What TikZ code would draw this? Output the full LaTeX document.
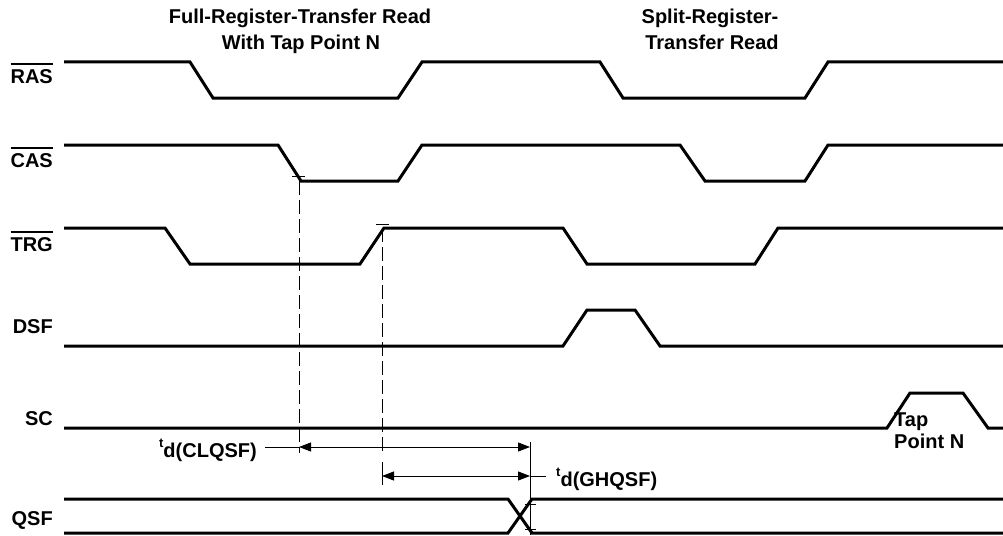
\documentclass[tikz,border=0pt]{standalone}
\usepackage{fontspec}
\setmainfont{Liberation Sans}
\usetikzlibrary{arrows.meta}
\newcommand\barlbl[1]{\vbox{\hrule height 2.6pt\kern 3.6pt\hbox{#1}}}
\newcommand\tdlbl[1]{{\fontsize{13}{13}\selectfont\raisebox{10pt}{t}}#1}
\begin{document}
\begin{tikzpicture}[x=1pt,y=-1pt,
  sig/.style={line width=3pt, line join=miter},
  dim/.style={line width=0.9pt},
  dsh/.style={line width=0.9pt, dash pattern=on 14pt off 5pt},
  tick/.style={line width=0.8pt},
  lbl/.style={font=\fontsize{20}{24}\selectfont\bfseries, inner sep=0pt},
  ttl/.style={font=\fontsize{20}{24}\selectfont\bfseries, inner sep=0pt},
  dimarr/.style={dim, {Triangle[length=12pt,width=9pt]}-{Triangle[length=12pt,width=9pt]}},
]
\useasboundingbox (0,0) rectangle (1003,535);

% titles
\node[ttl, anchor=base] (t1a) at (300,24) {Full-Register-Transfer Read};
\node[ttl, anchor=base] (t1b) at (301,50) {With Tap Point N};
\node[ttl, anchor=base] (t2a) at (710,24) {Split-Register-};
\node[ttl, anchor=base] (t2b) at (712,50) {Transfer Read};

% signal labels
\node[lbl, anchor=base east] (lras) at (53,83) {\barlbl{RAS}};
\node[lbl, anchor=base east] (lcas) at (53,167) {\barlbl{CAS}};
\node[lbl, anchor=base east] (ltrg) at (53,251) {\barlbl{TRG}};
\node[lbl, anchor=base east] (ldsf) at (53,333) {DSF};
\node[lbl, anchor=base east] (lsc) at (53,425) {SC};
\node[lbl, anchor=base east] (lqsf) at (53,525) {QSF};

% waveforms
\draw[sig] (64,62) -- (190,62) -- (213,98) -- (398,98) -- (422,62) -- (600,62) -- (623,98) -- (805,98) -- (828,62) -- (1004,62);
\draw[sig] (64,145) -- (278,145) -- (301,181) -- (398,181) -- (422,145) -- (680,145) -- (705,181) -- (805,181) -- (828,145) -- (1004,145);
\draw[sig] (64,228) -- (165,228) -- (190,264) -- (360,264) -- (384,228) -- (563,228) -- (587,264) -- (755,264) -- (778,228) -- (1004,228);
\draw[sig] (64,346) -- (563,346) -- (587,310) -- (635,310) -- (660,346) -- (1004,346);
\draw[sig] (64,428) -- (887,428) -- (910,393) -- (963,393) -- (988,428) -- (1004,428);
\draw[sig] (64,499) -- (508,499) -- (532,533) -- (1004,533);
\draw[sig] (64,533) -- (508,533) -- (532,499) -- (1004,499);

% reference coordinates
\coordinate (casL) at (299,181);
\coordinate (trgH) at (382,228);
\coordinate (a1s) at (265,447);
\coordinate (a1l) at (299,447);
\coordinate (a1r) at (530,447);
\coordinate (a2l) at (382,476);
\coordinate (a2r) at (530,476);
\coordinate (a2e) at (546,476);
\coordinate (qx) at (530,442);
\coordinate (qy) at (530,535);

% dashed extension lines
\draw[dsh] (casL) -- (299,453);
\draw[dsh] (trgH) -- (382,453);
\draw[tick] (382,462) -- (382,485);
\draw[tick] (qx) -- (qy);
% small cross marks
\draw[tick] (292,176) -- (305,176);
\draw[tick] (376,224) -- (389,224);
\draw[tick] (525,504) -- (536,504);
\draw[tick] (525,529) -- (536,529);

% dimension arrows
\draw[dim] (a1s) -- (a1l);
\draw[dimarr] (a1l) -- (a1r);
\draw[dimarr] (a2l) -- (a2r);
\draw[dim] (a2r) -- (a2e);

\node[lbl, anchor=base east] (lclq) at (257,457) {\tdlbl{d(CLQSF)}};
\node[lbl, anchor=base west] (lghq) at (556,486) {\tdlbl{d(GHQSF)}};

\node[lbl, anchor=base west] (tap1) at (894,426) {Tap};
\node[lbl, anchor=base west] (tap2) at (894,448) {Point N};
\end{tikzpicture}
\end{document}
